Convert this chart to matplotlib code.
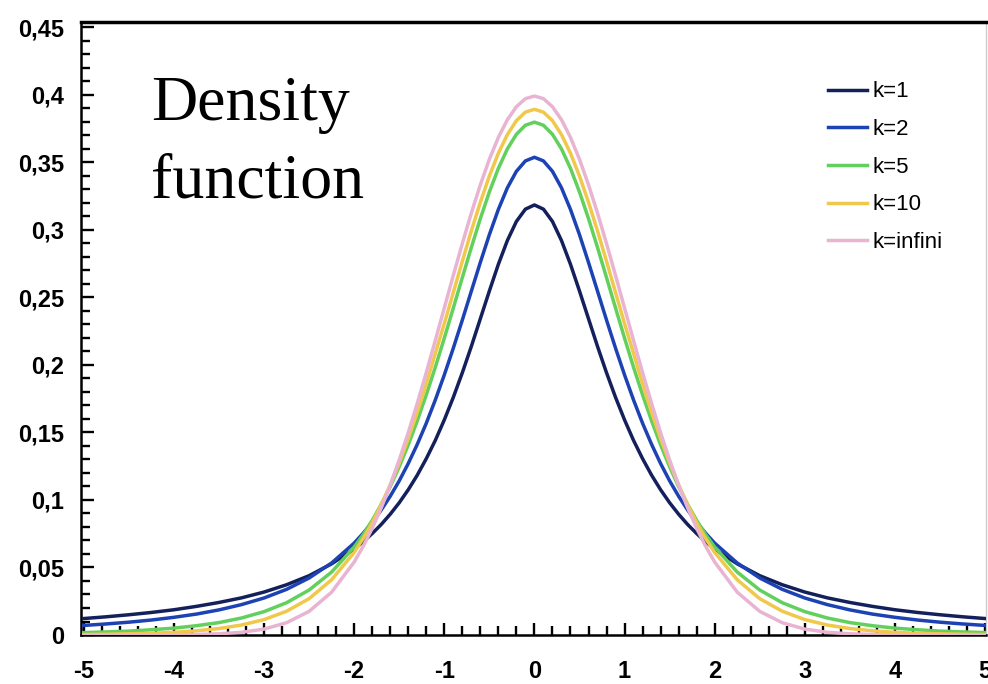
import numpy as np
import matplotlib.pyplot as plt

# x positions where the curves were read (finer near the peak)
x = [-5, -4.75, -4.5, -4.25, -4, -3.75, -3.5, -3.25, -3, -2.75, -2.5, -2.25, -2,
     -1.9, -1.8, -1.7, -1.6, -1.5, -1.4, -1.3, -1.2, -1.1, -1.0,
     -0.9, -0.8, -0.7, -0.6, -0.5, -0.4, -0.3, -0.2, -0.1,
     0,
     0.1, 0.2, 0.3, 0.4, 0.5, 0.6, 0.7, 0.8, 0.9,
     1.0, 1.1, 1.2, 1.3, 1.4, 1.5, 1.6, 1.7, 1.8, 1.9,
     2, 2.25, 2.5, 2.75, 3, 3.25, 3.5, 3.75, 4, 4.25, 4.5, 4.75, 5]

k1 = [0.0122, 0.0135, 0.0150, 0.0167, 0.0187, 0.0212, 0.0241, 0.0275, 0.0318, 0.0372, 0.0439, 0.0527, 0.0637,
      0.0690, 0.0751, 0.0818, 0.0894, 0.0979, 0.1075, 0.1183, 0.1305, 0.1440, 0.1592,
      0.1759, 0.1941, 0.2136, 0.2341, 0.2546, 0.2744, 0.2920, 0.3061, 0.3152,
      0.3183,
      0.3152, 0.3061, 0.2920, 0.2744, 0.2546, 0.2341, 0.2136, 0.1941, 0.1759,
      0.1592, 0.1440, 0.1305, 0.1183, 0.1075, 0.0979, 0.0894, 0.0818, 0.0751, 0.0690,
      0.0637, 0.0527, 0.0439, 0.0372, 0.0318, 0.0275, 0.0241, 0.0212, 0.0187, 0.0167, 0.0150, 0.0135, 0.0122]
k2 = [0.0071, 0.0082, 0.0095, 0.0111, 0.0131, 0.0155, 0.0186, 0.0225, 0.0274, 0.0338, 0.0422, 0.0533, 0.0680,
      0.0753, 0.0834, 0.0925, 0.1027, 0.1141, 0.1269, 0.1411, 0.1567, 0.1739, 0.1925,
      0.2123, 0.2331, 0.2545, 0.2758, 0.2963, 0.3150, 0.3310, 0.3432, 0.3509,
      0.3536,
      0.3509, 0.3432, 0.3310, 0.3150, 0.2963, 0.2758, 0.2545, 0.2331, 0.2123,
      0.1925, 0.1739, 0.1567, 0.1411, 0.1269, 0.1141, 0.1027, 0.0925, 0.0834, 0.0753,
      0.0680, 0.0533, 0.0422, 0.0338, 0.0274, 0.0225, 0.0186, 0.0155, 0.0131, 0.0111, 0.0095, 0.0082, 0.0071]
k5 = [0.0018, 0.0023, 0.0029, 0.0039, 0.0051, 0.0069, 0.0092, 0.0126, 0.0173, 0.0239, 0.0333, 0.0466, 0.0651,
      0.0743, 0.0848, 0.0966, 0.1098, 0.1245, 0.1407, 0.1585, 0.1777, 0.1981, 0.2197,
      0.2420, 0.2645, 0.2868, 0.3082, 0.3279, 0.3454, 0.3598, 0.3706, 0.3773,
      0.3796,
      0.3773, 0.3706, 0.3598, 0.3454, 0.3279, 0.3082, 0.2868, 0.2645, 0.2420,
      0.2197, 0.1981, 0.1777, 0.1585, 0.1407, 0.1245, 0.1098, 0.0966, 0.0848, 0.0743,
      0.0651, 0.0466, 0.0333, 0.0239, 0.0173, 0.0126, 0.0092, 0.0069, 0.0051, 0.0039, 0.0029, 0.0023, 0.0018]
k10 = [0.0004, 0.0006, 0.0009, 0.0013, 0.0020, 0.0031, 0.0048, 0.0074, 0.0114, 0.0176, 0.0269, 0.0409, 0.0611,
       0.0714, 0.0831, 0.0963, 0.1111, 0.1274, 0.1454, 0.1649, 0.1857, 0.2084, 0.2304,
       0.2535, 0.2766, 0.2991, 0.3203, 0.3397, 0.3566, 0.3704, 0.3807, 0.3870,
       0.3891,
       0.3870, 0.3807, 0.3704, 0.3566, 0.3397, 0.3203, 0.2991, 0.2766, 0.2535,
       0.2304, 0.2084, 0.1857, 0.1649, 0.1454, 0.1274, 0.1111, 0.0963, 0.0831, 0.0714,
       0.0611, 0.0409, 0.0269, 0.0176, 0.0114, 0.0074, 0.0048, 0.0031, 0.0020, 0.0013, 0.0009, 0.0006, 0.0004]
kinf = [0.0, 0.0, 0.0, 0.0, 0.0001, 0.0004, 0.0009, 0.0020, 0.0044, 0.0091, 0.0175, 0.0317, 0.0540,
        0.0656, 0.0790, 0.0941, 0.1109, 0.1295, 0.1497, 0.1714, 0.1942, 0.2179, 0.2420,
        0.2661, 0.2897, 0.3123, 0.3332, 0.3521, 0.3683, 0.3814, 0.3910, 0.3970,
        0.3989,
        0.3970, 0.3910, 0.3814, 0.3683, 0.3521, 0.3332, 0.3123, 0.2897, 0.2661,
        0.2420, 0.2179, 0.1942, 0.1714, 0.1497, 0.1295, 0.1109, 0.0941, 0.0790, 0.0656,
        0.0540, 0.0317, 0.0175, 0.0091, 0.0044, 0.0020, 0.0009, 0.0004, 0.0001, 0.0, 0.0, 0.0, 0.0]

labels = ["k=1", "k=2", "k=5", "k=10", "k=infini"]
colors = ["#14205c", "#1c42b4", "#62d05c", "#f0c84c", "#e8b4d2"]
series = [k1, k2, k5, k10, kinf]

xticks = [-5, -4, -3, -2, -1, 0, 1, 2, 3, 4, 5]
yticks = [0, 0.05, 0.1, 0.15, 0.2, 0.25, 0.3, 0.35, 0.4, 0.45]
ytick_labels = ["0", "0,05", "0,1", "0,15", "0,2", "0,25", "0,3", "0,35", "0,4", "0,45"]

fig = plt.figure(figsize=(9.88, 6.84), dpi=100)
ax = fig.add_axes([0.082, 0.0716, 0.916, 0.8962])

# curves drawn over the ticks, as in the original
for ys, c, lab in zip(series, colors, labels):
    ax.plot(x, ys, color=c, lw=2.5, label=lab, zorder=3)

ax.set_xlim(-5.03, 5.01)
ax.set_ylim(0, 0.4537)

ax.set_xticks(xticks)
ax.set_xticklabels([str(t) for t in xticks])
ax.set_xticks(np.arange(-5, 5.01, 0.2), minor=True)
ax.set_yticks(yticks)
ax.set_yticklabels(ytick_labels)
ax.set_yticks(np.arange(0, 0.4501, 0.01), minor=True)

for lab in ax.get_xticklabels() + ax.get_yticklabels():
    lab.set_fontfamily("Liberation Sans")
    lab.set_fontweight("bold")
    lab.set_fontsize(17)

ax.tick_params(axis="both", which="major", direction="in", length=9, width=1.7, color="black")
ax.tick_params(axis="both", which="minor", direction="in", length=6.5, width=1.7, color="black")
ax.tick_params(axis="x", which="major", pad=18)
ax.tick_params(axis="y", which="major", pad=12)
ax.tick_params(top=False, right=False, which="both")

for s in ["left", "bottom"]:
    ax.spines[s].set_linewidth(1.8)
ax.spines["top"].set_linewidth(2.5)
ax.spines["right"].set_linewidth(1.0)
ax.spines["right"].set_color("#cccccc")

ax.text(-4.25, 0.414, "Density\nfunction", fontfamily="Liberation Serif", fontsize=46,
        va="top", ha="left", linespacing=1.45)

leg = ax.legend(loc="upper left", bbox_to_anchor=(0.825, 0.903), frameon=False,
                borderaxespad=0, borderpad=0,
                handlelength=1.75, handletextpad=0.25, labelspacing=0.75,
                prop={"family": "Liberation Sans", "size": 16})

fig.savefig("out.png", dpi=100)
